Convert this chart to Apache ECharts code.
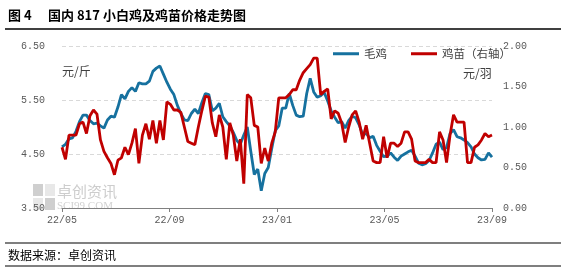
<!DOCTYPE html>
<html>
<head>
<meta charset="utf-8">
<script src="https://cdn.jsdelivr.net/npm/echarts@6/dist/echarts.min.js"></script>
<style>
html,body{margin:0;padding:0;background:#fff;}
#chart{width:566px;height:269px;}
</style>
</head>
<body>
<div id="chart"></div>
<script>
// 横轴刻度标签（每4个月一个）
const tickLabels=['22/05','22/09','23/01','23/05','23/09'];
// 毛鸡 元/斤（左轴），约每4天一个点
const broiler=[
  4.63,4.68,4.78,4.80,4.92,5.10,5.22,5.22,5.12,5.06,
  5.07,5.02,4.98,5.13,5.20,5.18,5.37,5.60,5.52,5.66,
  5.73,5.66,5.82,5.80,5.80,5.85,6.03,6.09,6.13,5.98,
  5.83,5.70,5.60,5.40,5.25,5.13,5.12,5.25,5.33,5.25,
  5.45,5.62,5.60,5.30,5.35,5.44,5.19,5.10,5.02,4.90,
  4.75,4.68,4.85,5.00,4.55,4.12,4.22,3.82,4.14,4.25,
  4.60,4.93,5.02,5.35,5.35,5.62,5.40,5.22,5.19,5.20,
  5.62,5.90,5.65,5.55,5.58,5.64,5.48,5.30,5.18,5.08,
  5.10,4.98,5.12,5.20,5.17,5.04,4.86,4.88,4.80,4.83,
  4.66,4.55,4.45,4.46,4.52,4.44,4.38,4.46,4.50,4.54,
  4.57,4.46,4.33,4.30,4.32,4.38,4.52,4.68,4.72,4.58,
  4.62,4.88,4.95,4.82,4.80,4.76,4.71,4.63,4.50,4.43,
  4.39,4.40,4.52,4.44
];
// 鸡苗 元/羽（右轴）
const chick=[
  0.75,0.60,0.90,0.90,0.90,1.04,1.06,0.92,1.14,1.21,
  1.16,0.84,0.70,0.62,0.55,0.41,0.59,0.62,0.75,0.66,
  0.80,0.98,0.55,0.90,1.04,0.85,1.08,0.80,1.08,0.84,
  1.31,1.28,1.21,1.21,1.18,1.00,0.82,0.80,0.78,1.00,
  1.20,1.38,1.37,1.05,0.88,1.15,1.00,0.60,1.05,0.90,
  0.58,0.85,0.30,1.40,1.36,1.02,1.00,0.55,0.74,0.58,
  0.80,0.94,1.36,1.36,1.36,1.40,1.46,1.46,1.58,1.67,
  1.72,1.77,1.85,1.85,1.40,1.44,1.47,1.10,1.20,1.17,
  1.05,0.81,1.00,1.15,1.20,1.06,0.85,1.02,0.80,0.58,
  0.56,0.56,0.88,0.62,0.80,0.80,0.76,0.80,0.94,0.94,
  0.85,0.58,0.56,0.56,0.56,0.60,0.56,0.56,0.94,0.84,
  0.56,0.90,1.15,1.06,1.06,1.06,0.56,0.56,0.75,0.78,
  0.84,0.92,0.88,0.90
];

const lastIdx=broiler.length-1;
const step=lastIdx/(tickLabels.length-1);
const cjk='"Noto Sans CJK SC"';
const mono='"Liberation Mono"';

const chart=echarts.init(document.getElementById('chart'));
chart.setOption({
  animation:false,
  backgroundColor:'#fff',
  grid:{left:62,right:74,top:46,bottom:61},
  legend:{
    left:328,top:43,
    icon:'rect',itemWidth:26,itemHeight:3,itemGap:24,
    textStyle:{fontFamily:cjk,fontSize:11.5,color:'#404040'},
    data:['毛鸡','鸡苗（右轴）']
  },
  xAxis:{
    type:'value',min:0,max:lastIdx,interval:step,
    axisLine:{lineStyle:{color:'#808080',width:1}},
    axisTick:{show:true,length:4,lineStyle:{color:'#808080'}},
    splitLine:{show:false},
    axisLabel:{
      margin:7,fontFamily:mono,fontSize:10,color:'#595959',
      formatter:v=>tickLabels[Math.round(v/step)]
    }
  },
  yAxis:[
    {
      type:'value',min:3.5,max:6.5,interval:1,
      axisLine:{show:false},axisTick:{show:false},
      splitLine:{lineStyle:{color:'#d9d9d9',type:[4,3]}},
      axisLabel:{margin:17,fontFamily:mono,fontSize:10,color:'#595959',formatter:v=>v.toFixed(2)}
    },
    {
      type:'value',min:0,max:2,interval:0.5,
      axisLine:{show:false},axisTick:{show:false},
      splitLine:{show:false},
      axisLabel:{margin:11,fontFamily:mono,fontSize:10,color:'#595959',formatter:v=>v.toFixed(2)}
    }
  ],
  series:[
    {
      name:'毛鸡',type:'line',yAxisIndex:0,symbol:'none',
      itemStyle:{color:'#16719f'},
      lineStyle:{color:'#16719f',width:2.8},
      data:broiler.map((v,i)=>[i,v])
    },
    {
      name:'鸡苗（右轴）',type:'line',yAxisIndex:1,symbol:'none',
      itemStyle:{color:'#c00000'},
      lineStyle:{color:'#c00000',width:2.8},
      data:chick.map((v,i)=>[i,v])
    }
  ],
  graphic:[
    // 水印
    {type:'rect',z:-1,shape:{x:33,y:184,width:10,height:12},style:{fill:'#cfcfcf'}},
    {type:'rect',z:-1,shape:{x:45,y:184,width:10,height:12},style:{fill:'#e8e8e8'}},
    {type:'rect',z:-1,shape:{x:33,y:198,width:10,height:12},style:{fill:'#e8e8e8'}},
    {type:'rect',z:-1,shape:{x:45,y:198,width:10,height:12},style:{fill:'#cfcfcf'}},
    {type:'text',z:-1,x:57,y:184,style:{text:'卓创资讯',font:'15px '+cjk,fill:'#cdcdcd'}},
    {type:'text',z:-1,x:57,y:201,style:{text:'SCI99.COM',font:'11px "Liberation Serif"',fill:'#d2d2d2'}},
    // 标题
    {type:'text',x:8,y:9,style:{text:'图 4',font:'bold 13px '+cjk,fill:'#000'}},
    {type:'text',x:48,y:9,style:{text:'国内 817 小白鸡及鸡苗价格走势图',font:'bold 13px '+cjk,fill:'#000'}},
    {type:'line',shape:{x1:5,y1:29,x2:561,y2:29},style:{stroke:'#000',lineWidth:1.5}},
    // 单位
    {type:'text',x:62,y:65,style:{text:'元/斤',font:'12px '+cjk,fill:'#404040'}},
    {type:'text',x:463,y:67,style:{text:'元/羽',font:'12px '+cjk,fill:'#404040'}},
    // 底部
    {type:'line',shape:{x1:5,y1:243,x2:561,y2:243},style:{stroke:'#000',lineWidth:1.2}},
    {type:'text',x:8,y:249,style:{text:'数据来源：卓创资讯',font:'12px '+cjk,fill:'#000'}},
    {type:'line',shape:{x1:5,y1:266,x2:561,y2:266},style:{stroke:'#000',lineWidth:1.2}}
  ]
});
</script>
</body>
</html>
